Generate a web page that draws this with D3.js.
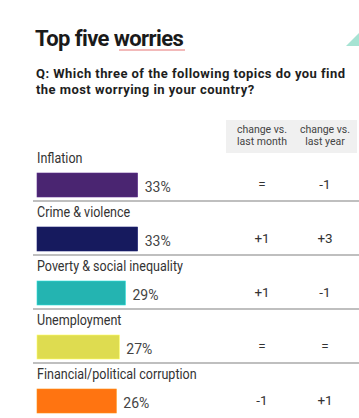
<!DOCTYPE html>
<html><head><meta charset="utf-8">
<script src="https://cdn.jsdelivr.net/npm/d3@7"></script>
<style>
html,body{margin:0;padding:0;background:#fff;}
svg{display:block;}
text{font-family:"Roboto",sans-serif;}
</style></head>
<body>
<div id="chart"></div>
<script>
const categories = ["Inflation","Crime & violence","Poverty & social inequality","Unemployment","Financial/political corruption"];
const shares = [33,33,29,27,26];
const changeMonth = ["=","+1","+1","=","-1"];
const changeYear = ["-1","+3","-1","=","+1"];
const colors = ["#4a2571","#161a5e","#24b4b1","#dedc50","#ff7411"];
const columnHeaders = [["change vs.","last month"],["change vs.","last year"]];
const title = "Top five worries";
const subtitle = ["Q: Which three of the following topics do you find","the most worrying in your country?"];

const W=359,H=418;
const svg=d3.select("#chart").append("svg").attr("width",W).attr("height",H);

// decorative triangle
svg.append("path").attr("d","M346,46L359,46L359,33Z").attr("fill","#a6e3d3");

svg.append("text").attr("x",35).attr("y",46).text(title)
  .style("font-weight","700").style("font-size","22px").style("letter-spacing","-0.6px").attr("fill","#1a1a1a");
// spellcheck squiggle under "worries"
{
  const pts=[];for(let x=119;x<=185;x+=2)pts.push([x,49+((x/2)%2?1:-1)*1]);
  svg.append("path").attr("d",d3.line()(pts)).attr("fill","none").attr("stroke","#e05050").attr("stroke-width",0.8);
}
subtitle.forEach((s,i)=>svg.append("text").attr("x",36).attr("y",78+i*15.5).text(s)
  .style("font-weight","700").style("font-size","13px").style("letter-spacing","0.45px").attr("fill","#1e1e1e"));

// header box
svg.append("rect").attr("x",226).attr("y",120).attr("width",131).attr("height",33).attr("fill","#f0f0f0");
const colX=[262,325];
columnHeaders.forEach((h,i)=>h.forEach((l,j)=>svg.append("text").attr("x",colX[i]).attr("y",133+j*11.5)
  .attr("text-anchor","middle").style("font-size","10.5px").attr("fill","#444").text(l)));

const x=d3.scaleLinear().domain([0,100]).range([37,342]);
const y=d3.scaleBand().domain(categories).range([146,416]).paddingInner(0).paddingOuter(0);
const rowH=y.bandwidth();

const g=svg.selectAll("g.row").data(categories).join("g").attr("class","row")
  .attr("transform",d=>`translate(0,${y(d)})`);
g.append("text").attr("transform","translate(37,17) scale(0.865,1)").style("font-size","14.5px").attr("fill","#333").text(d=>d);
g.append("rect").attr("x",x(0)).attr("y",27).attr("height",24)
  .attr("width",(d,i)=>x(shares[i])-x(0)).attr("fill",(d,i)=>colors[i])
  .attr("stroke",(d,i)=>d3.color(colors[i]).brighter(0.6)).attr("stroke-width",0.6);
g.append("text").attr("x",(d,i)=>x(shares[i])+7).attr("y",46).style("font-size","14px").attr("fill","#444")
  .text((d,i)=>shares[i]+"%");
g.append("text").attr("x",colX[0]).attr("y",43).attr("text-anchor","middle").style("font-size","13.5px").attr("fill","#333")
  .text((d,i)=>changeMonth[i]);
g.append("text").attr("x",colX[1]).attr("y",43).attr("text-anchor","middle").style("font-size","13.5px").attr("fill","#333")
  .text((d,i)=>changeYear[i]);
g.filter((d,i)=>i<categories.length-1).append("line").attr("x1",33).attr("x2",359).attr("y1",rowH+1).attr("y2",rowH+1)
  .attr("stroke","#aaa").attr("stroke-width",1.5);
</script>
</body></html>
